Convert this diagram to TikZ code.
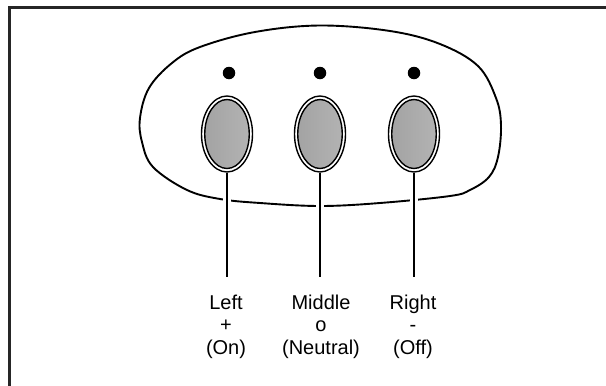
\documentclass[tikz,border=0pt]{standalone}
\usepackage{fontspec}
\setmainfont{Liberation Sans}
\usetikzlibrary{shapes.geometric}
\begin{document}
\begin{tikzpicture}[x=1pt,y=-1pt,
  frameline/.style={line width=2.6pt, black!85},
  blobline/.style={line width=1.9pt},
  btnouter/.style={ellipse, draw, line width=1.4pt, fill=white, inner sep=0pt,
    minimum width=51pt, minimum height=76pt},
  btninner/.style={ellipse, draw, line width=1.4pt, inner sep=0pt,
    minimum width=44.5pt, minimum height=69pt,
    left color=black!36, middle color=black!18, right color=black!30},
  led/.style={circle, fill=black, inner sep=0pt, minimum size=12.5pt},
  stem/.style={line width=2pt},
  gapline/.style={line width=8pt, white},
  lbl/.style={align=center, anchor=north, inner sep=0pt,
    font=\fontsize{20}{22.5}\selectfont}
]
\useasboundingbox (0,0) rectangle (606,386);
% frame (top and left only visible)
\draw[frameline] (9.5,386) -- (9.5,7.3) -- (606,7.3);
% housing
\draw[blobline] plot[smooth cycle, tension=0.6] coordinates {
  (140,118) (149,88) (172,63) (200,47) (255,32) (320,25.5) (390,31)
  (440,44) (478,66) (496,98) (501,125) (498,157) (489,177) (470,190)
  (450,196) (380,203) (320,206) (260,203) (220,199) (187,190)
  (153,167) (142,142)};
% indicator dots
\node[led] (d1) at (229,73) {};
\node[led] (d2) at (320,73) {};
\node[led] (d3) at (414,73) {};
% buttons
\node[btnouter] (b1) at (227,134) {};
\node[btninner] (c1) at (b1) {};
\node[btnouter] (b2) at (320,134) {};
\node[btninner] (c2) at (b2) {};
\node[btnouter] (b3) at (414,134) {};
\node[btninner] (c3) at (b3) {};
% labels
\node[lbl] (l1) at (226,294.5) {Left\\+\\(On)};
\node[lbl] (l2) at (321,294.5) {Middle\\o\\(Neutral)};
\node[lbl] (l3) at (413,294.5) {Right\\-\\(Off)};
% stem ends
\coordinate (e1) at (227,277);
\coordinate (e2) at (320,277);
\coordinate (e3) at (414,277);
% gaps where stems cross the housing edge
\draw[gapline] (227,188) -- (227,215);
\draw[gapline] (320,190) -- (320,218);
\draw[gapline] (414,186) -- (414,212);
% stems
\draw[stem] (b1.south) -- (e1);
\draw[stem] (b2.south) -- (e2);
\draw[stem] (b3.south) -- (e3);
\end{tikzpicture}
\end{document}
